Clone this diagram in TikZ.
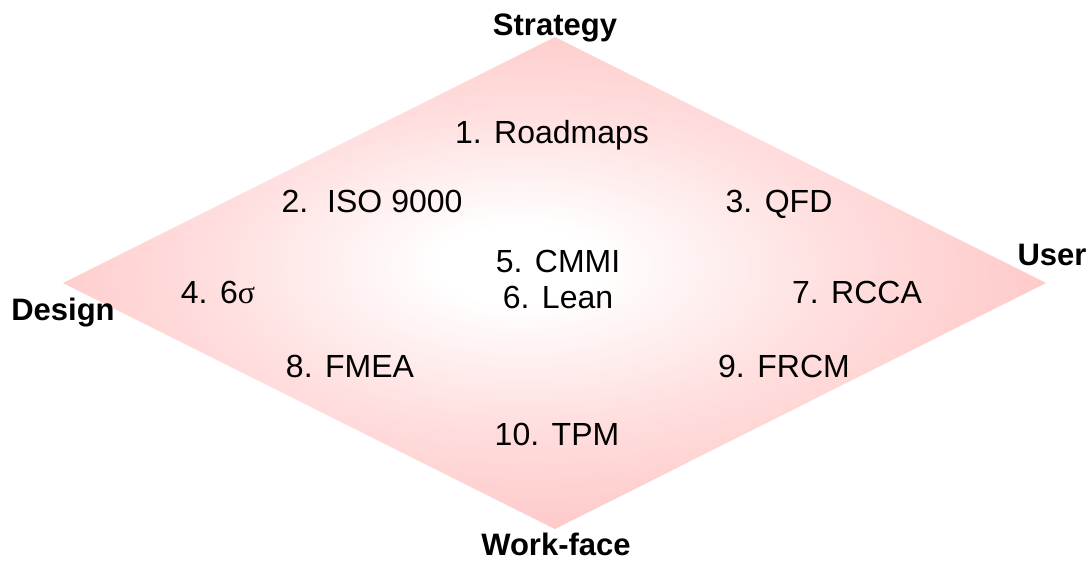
\documentclass[tikz,border=0pt]{standalone}
\usepackage{fontspec}
\setmainfont{Liberation Sans}
\newfontfamily\greekfont{Liberation Serif}
\usetikzlibrary{shadings}
\definecolor{dpink}{RGB}{255,200,200}
\pgfdeclareradialshading{diashade}{\pgfpoint{-2bp}{2bp}}{color(0bp)=(white); color(4bp)=(white); color(16bp)=(dpink!60!white); color(27bp)=(dpink); color(60bp)=(dpink)}
\tikzset{
  item/.style={font=\fontsize{32}{34}\selectfont, anchor=base, inner sep=0pt},
  corner/.style={font=\fontsize{31}{33}\selectfont\bfseries, anchor=base, inner sep=0pt},
}
\newcommand\gp{\hspace{12.5pt}}
\begin{document}
\begin{tikzpicture}[x=1pt,y=-1pt]
\useasboundingbox (0,0) rectangle (1092,560);
\coordinate (T) at (555,37);
\coordinate (B) at (555,529);
\coordinate (L) at (63,283);
\coordinate (R) at (1046,283);
\path[shading=diashade] (T) -- (R) -- (B) -- (L) -- cycle;
\node[corner] (strategy) at (555,35) {Strategy};
\node[corner] (design) at (63,320) {Design};
\node[corner] (user) at (1052,265) {User};
\node[corner] (workface) at (556,555) {Work-face};
\node[item] (i1) at (552,143) {1.\gp Roadmaps};
\node[item] (i2) at (372,212) {2.\hspace{19pt}ISO 9000};
\node[item] (i3) at (779,212) {3.\gp QFD};
\node[item] (i5) at (558,272) {5.\gp CMMI};
\node[item] (i6) at (558,308) {6.\gp Lean};
\node[item] (i4) at (218,303) {4.\gp 6{\greekfont σ}};
\node[item] (i7) at (857,303) {7.\gp RCCA};
\node[item] (i8) at (350,377) {8.\gp FMEA};
\node[item] (i9) at (784,377) {9.\gp FRCM};
\node[item] (i10) at (557,445) {10.\gp TPM};
\end{tikzpicture}
\end{document}
